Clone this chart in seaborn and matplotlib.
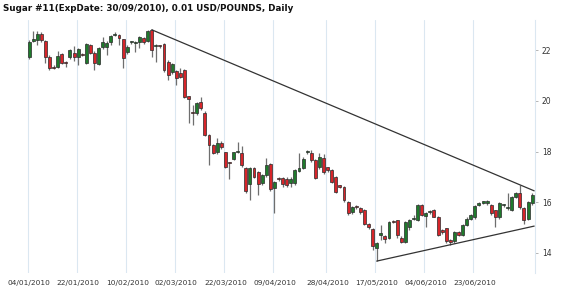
import numpy as np
import pandas as pd
import matplotlib
matplotlib.use("Agg")
import matplotlib.pyplot as plt
import seaborn as sns

title = "Sugar #11(ExpDate: 30/09/2010), 0.01 USD/POUNDS, Daily"

opens = [21.72, 22.35, 22.39, 22.63, 22.35, 21.72, 21.35, 21.35, 21.84, 21.50,
         21.72, 21.88, 21.72, 21.84, 21.49, 22.20, 21.88, 21.45, 22.12, 22.12,
         22.32, 22.60, 22.59, 22.43, 21.92, 22.30, 22.28, 22.32, 22.47, 22.35,
         22.79, 22.16, 22.18, 22.24, 21.53, 21.13, 21.17, 21.09, 21.21, 20.19,
         19.52, 19.52, 19.95, 19.52, 18.65, 18.26, 17.98, 18.33, 17.98, 17.55,
         17.70, 18.00, 17.94, 17.35, 16.72, 17.35, 17.19, 16.76, 17.07, 17.51,
         16.56, 16.92, 16.96, 16.92, 16.76, 16.76, 17.23, 17.35, 17.98, 17.94,
         17.66, 17.39, 17.74, 17.39, 17.27, 17.00, 16.68, 16.60, 16.01, 15.62,
         15.82, 15.77, 15.69, 15.14, 14.95, 14.20, 14.71, 14.67, 14.59, 15.23,
         15.30, 14.59, 14.43, 15.02, 15.34, 15.30, 15.89, 15.46, 15.62, 15.69,
         15.42, 14.91, 14.99, 14.51, 14.47, 14.83, 14.71, 15.10, 15.34, 15.42,
         15.89, 15.99, 15.97, 15.89, 15.69, 15.42, 15.88, 15.77, 15.69, 16.21,
         16.36, 15.77, 15.34, 15.97]
closes = [22.32, 22.43, 22.63, 22.39, 21.72, 21.29, 21.31, 21.76, 21.49, 21.48,
          22.00, 21.72, 22.04, 21.82, 22.24, 21.88, 21.49, 22.08, 22.32, 22.28,
          22.55, 22.63, 22.47, 21.68, 22.12, 22.32, 22.30, 22.51, 22.32, 22.75,
          22.00, 22.20, 22.16, 21.21, 21.01, 21.45, 20.90, 20.94, 20.15, 20.07,
          19.50, 19.91, 19.71, 18.65, 18.26, 17.94, 18.33, 18.18, 17.39, 17.53,
          17.98, 18.02, 17.47, 16.44, 17.35, 17.00, 16.72, 17.07, 17.47, 16.52,
          16.80, 16.90, 16.72, 16.68, 16.92, 17.27, 17.35, 17.70, 18.00, 17.66,
          16.96, 17.78, 17.19, 17.27, 16.80, 16.40, 16.60, 16.09, 15.58, 15.81,
          15.80, 15.62, 15.14, 15.02, 14.28, 14.39, 14.79, 14.55, 15.22, 15.22,
          14.71, 14.43, 15.22, 15.30, 15.36, 15.89, 15.50, 15.58, 15.64, 15.42,
          14.71, 14.83, 14.47, 14.43, 14.83, 14.71, 15.10, 15.34, 15.50, 15.85,
          15.97, 16.01, 16.05, 15.58, 15.42, 15.97, 15.90, 15.79, 16.21, 16.36,
          15.81, 15.30, 16.01, 16.29]
highs = [22.40, 22.75, 22.75, 22.70, 22.40, 21.80, 21.40, 21.95, 21.90, 21.55,
         22.05, 22.15, 22.10, 21.90, 22.28, 22.25, 21.95, 22.12, 22.50, 22.35,
         22.60, 22.70, 22.62, 22.45, 22.20, 22.35, 22.35, 22.55, 22.50, 22.80,
         22.82, 22.25, 22.20, 22.28, 21.60, 21.50, 21.20, 21.29, 21.25, 20.20,
         19.83, 19.95, 20.15, 19.60, 18.70, 18.30, 18.53, 18.40, 18.00, 17.60,
         18.00, 18.37, 18.22, 17.40, 17.40, 17.40, 17.25, 17.10, 17.74, 17.55,
         16.85, 17.00, 17.00, 17.00, 17.00, 17.30, 17.94, 17.80, 18.05, 18.05,
         17.70, 17.94, 17.90, 17.40, 17.30, 17.05, 16.70, 16.65, 16.05, 15.85,
         15.90, 15.80, 15.75, 15.20, 15.00, 14.45, 15.10, 14.70, 15.25, 15.30,
         15.30, 14.65, 15.25, 15.35, 15.50, 15.95, 15.95, 15.60, 15.70, 15.75,
         15.45, 14.95, 15.00, 14.55, 14.85, 14.85, 15.15, 15.40, 15.55, 15.90,
         16.00, 16.05, 16.10, 15.95, 15.70, 16.00, 15.95, 16.36, 16.25, 16.40,
         16.68, 15.80, 16.05, 16.35]
lows = [21.65, 22.30, 22.20, 22.30, 21.50, 21.20, 21.25, 21.30, 21.45, 21.35,
        21.65, 21.55, 21.40, 21.75, 21.45, 21.85, 21.20, 21.40, 22.05, 21.80,
        22.20, 22.55, 22.20, 21.29, 21.85, 22.25, 21.92, 22.10, 22.25, 22.30,
        21.72, 21.53, 22.10, 21.15, 20.82, 21.05, 20.62, 20.90, 20.10, 19.12,
        19.04, 19.45, 19.65, 18.60, 17.47, 17.90, 17.90, 18.10, 17.35, 16.92,
        17.65, 17.95, 17.40, 16.35, 16.09, 16.95, 16.29, 16.70, 17.00, 16.45,
        15.58, 16.85, 16.60, 16.60, 16.60, 16.70, 17.20, 17.30, 17.90, 17.60,
        16.90, 17.30, 17.10, 17.20, 16.75, 16.35, 16.55, 16.00, 15.50, 15.55,
        15.75, 15.55, 15.10, 14.95, 14.12, 13.68, 14.50, 14.40, 14.55, 15.20,
        14.60, 14.40, 14.40, 14.90, 15.30, 15.25, 15.45, 15.02, 15.55, 15.40,
        14.65, 14.75, 14.40, 14.32, 14.40, 14.65, 14.65, 15.05, 15.30, 15.35,
        15.85, 15.95, 15.90, 15.50, 15.02, 15.35, 15.80, 15.70, 15.65, 16.15,
        15.75, 15.14, 15.30, 15.90]

tick_labels = ["04/01/2010", "22/01/2010", "10/02/2010", "02/03/2010", "22/03/2010",
               "09/04/2010", "28/04/2010", "17/05/2010", "04/06/2010", "23/06/2010"]
tick_index = [0, 12, 24, 36, 48, 60, 73, 85, 97, 109]
y_ticks = [14, 16, 18, 20, 22]

# trend lines (bar index, price)
upper_x = [30, 123.5]
upper_y = [22.80, 16.45]
lower_x = [85, 123.5]
lower_y = [13.68, 15.06]

df = pd.DataFrame({"open": opens, "close": closes, "high": highs, "low": lows})
df["idx"] = np.arange(len(df))
df["up"] = df["close"] >= df["open"]

sns.set_style("white")
plt.rcParams["font.family"] = ["DejaVu Sans"]

fig = plt.figure(figsize=(5.70, 2.92), dpi=100)
ax = fig.add_axes([0.0, 0.065, 535 / 570, 0.866])

GREEN = "#1f7a2c"
RED = "#d6252a"

for t in tick_index:
    ax.axvline(t - 0.35, color="#dbe7f1", lw=0.8, zorder=0)

ax.vlines(df["idx"], df["low"], df["high"], color="#6e6e6e", lw=0.9, zorder=1)
body_bottom = np.minimum(df["open"], df["close"])
body_h = np.maximum(np.abs(df["close"] - df["open"]), 0.04)
colors = [GREEN if u else RED for u in df["up"]]
ax.bar(df["idx"], body_h, bottom=body_bottom, width=0.72, color=colors,
       edgecolor="#2a2a2a", linewidth=0.5, zorder=2)

sns.lineplot(x=upper_x, y=upper_y, ax=ax, color="#333333", lw=0.9, zorder=3)
sns.lineplot(x=lower_x, y=lower_y, ax=ax, color="#333333", lw=0.9, zorder=3)

ax.set_xlim(-7.1, 123.7)
ax.set_ylim(13.21, 23.18)
ax.set_xticks(tick_index)
ax.set_xticklabels(tick_labels, fontsize=5.3, color="#333333")
ax.set_yticks(y_ticks)
ax.set_yticklabels([str(v) for v in y_ticks], fontsize=5.5, color="#333333")
ax.yaxis.tick_right()
ax.tick_params(axis="y", length=2, width=0.6, color="#aaaaaa", pad=3)
ax.tick_params(axis="x", length=0, pad=5)
for s in ["top", "left", "bottom"]:
    ax.spines[s].set_visible(False)
ax.spines["right"].set_color("#dbe7f1")
ax.spines["right"].set_linewidth(0.8)

fig.text(0.006, 0.985, title, fontsize=6.3, fontweight="bold", color="#111111",
         ha="left", va="top")

fig.savefig("out.png", dpi=100)
